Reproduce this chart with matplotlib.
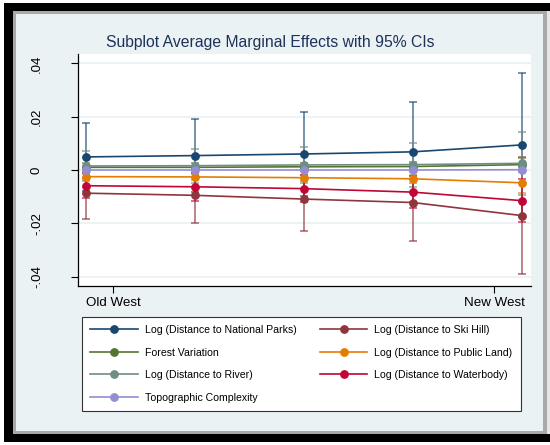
import matplotlib
matplotlib.use("Agg")
import matplotlib.pyplot as plt
from matplotlib.patches import Rectangle
import numpy as np

plt.rcParams['font.family'] = ['Liberation Sans', 'DejaVu Sans']

# ---- data -------------------------------------------------------------
periods = [1, 2, 3, 4, 5]
tick_pos = [1.25, 4.75]
tick_labels = ["Old West", "New West"]
ytick_vals = [-0.04, -0.02, 0.0, 0.02, 0.04]
ytick_labels = ["-.04", "-.02", "0", ".02", ".04"]

names = [
    "Log (Distance to National Parks)",
    "Log (Distance to Ski Hill)",
    "Forest Variation",
    "Log (Distance to Public Land)",
    "Log (Distance to River)",
    "Log (Distance to Waterbody)",
    "Topographic Complexity",
]
colors = ["#1a476f", "#90353b", "#55752f", "#e37e00", "#6e8e84", "#c10534", "#938dd2"]

national_parks = [0.0049, 0.0054, 0.0060, 0.0068, 0.0094]
national_parks_ci = [0.0128, 0.0137, 0.0159, 0.0187, 0.0271]
ski_hill = [-0.0087, -0.0095, -0.0109, -0.0122, -0.0171]
ski_hill_ci = [0.0097, 0.0105, 0.0120, 0.0144, 0.0219]
forest_var = [0.0010, 0.0010, 0.0012, 0.0013, 0.0020]
forest_var_ci = [0.0015, 0.0015, 0.0016, 0.0018, 0.0025]
public_land = [-0.0025, -0.0026, -0.0029, -0.0033, -0.0048]
public_land_ci = [0.0010, 0.0010, 0.0012, 0.0015, 0.0040]
river = [0.0015, 0.0016, 0.0019, 0.0020, 0.0025]
river_ci = [0.0057, 0.0064, 0.0068, 0.0082, 0.0118]
waterbody = [-0.0059, -0.0063, -0.0070, -0.0083, -0.0115]
waterbody_ci = [0.0046, 0.0052, 0.0051, 0.0060, 0.0080]
topographic = [0.0000, 0.0000, 0.0000, 0.0000, 0.0001]
topographic_ci = [0.0005, 0.0005, 0.0005, 0.0006, 0.0008]

means = [national_parks, ski_hill, forest_var, public_land, river, waterbody, topographic]
cis = [national_parks_ci, ski_hill_ci, forest_var_ci, public_land_ci, river_ci, waterbody_ci, topographic_ci]

# ---- figure -----------------------------------------------------------
W, H = 550, 445
fig = plt.figure(figsize=(W / 100, H / 100), dpi=100, facecolor="white")

def px_rect(x0, y0, x1, y1, color, z):
    fig.add_artist(Rectangle((x0 / W, 1 - y1 / H), (x1 - x0) / W, (y1 - y0) / H,
                             transform=fig.transFigure, facecolor=color,
                             edgecolor="none", zorder=z))

bg = "#eaf2f3"
px_rect(4, 3, 550, 442, "black", -10)
px_rect(13, 11, 547, 434, "#a9a9a9", -9)
px_rect(547, 11, 550, 434, "#e6e6e6", -9)
px_rect(16, 14, 543, 431, bg, -8)

ax = fig.add_axes([77.7 / W, 1 - 285.7 / H, (531 - 77.7) / W, (285.7 - 54) / H])
ax.set_facecolor("white")

x = np.array(periods, dtype=float)
handles = []
for m, c, col, nm in zip(means, cis, colors, names):
    ax.errorbar(x, m, yerr=c, fmt="none", ecolor=col, alpha=0.7,
                elinewidth=1.2, capsize=3, capthick=1.2, zorder=2)
    h, = ax.plot(x, m, color=col, marker="o", markersize=5.3, linewidth=1.2,
                 label=nm, zorder=3)
    handles.append(h)

ax.set_xlim(0.927, 5.085)
ax.set_ylim(-0.0434, 0.0435)
ax.set_yticks(ytick_vals)
ax.set_yticklabels(ytick_labels, rotation=90, va="center", fontsize=9.5)
ax.set_xticks(tick_pos)
ax.set_xticklabels(tick_labels, fontsize=9.6)
ax.tick_params(axis="y", length=5, width=0.8, pad=20)
ax.tick_params(axis="x", length=5, width=0.8, pad=3)
ax.grid(axis="y", color=bg, linewidth=1.3)
ax.set_axisbelow(True)
for s in ["top", "right"]:
    ax.spines[s].set_visible(False)
for s in ["left", "bottom"]:
    ax.spines[s].set_linewidth(0.9)
    ax.spines[s].set_color("black")

fig.text(0.5 * (105 + 435) / W, 1 - 43 / H, "Subplot Average Marginal Effects with 95% CIs",
         ha="center", va="center", fontsize=11.3, color="#1e3159")

order = [0, 2, 4, 6, 1, 3, 5]
leg = fig.legend([handles[i] for i in order], [names[i] for i in order],
                 loc="upper left", bbox_to_anchor=(82 / W, 1 - 316.7 / H),
                 ncol=2, fontsize=7.6, frameon=True, fancybox=False,
                 edgecolor="#333333", facecolor="white", framealpha=1,
                 handlelength=4.5, handletextpad=0.65, columnspacing=2.2,
                 borderpad=0.8, labelspacing=1.18, borderaxespad=0)
leg.get_frame().set_linewidth(0.8)

fig.savefig("out.png", dpi=100, facecolor="white")
